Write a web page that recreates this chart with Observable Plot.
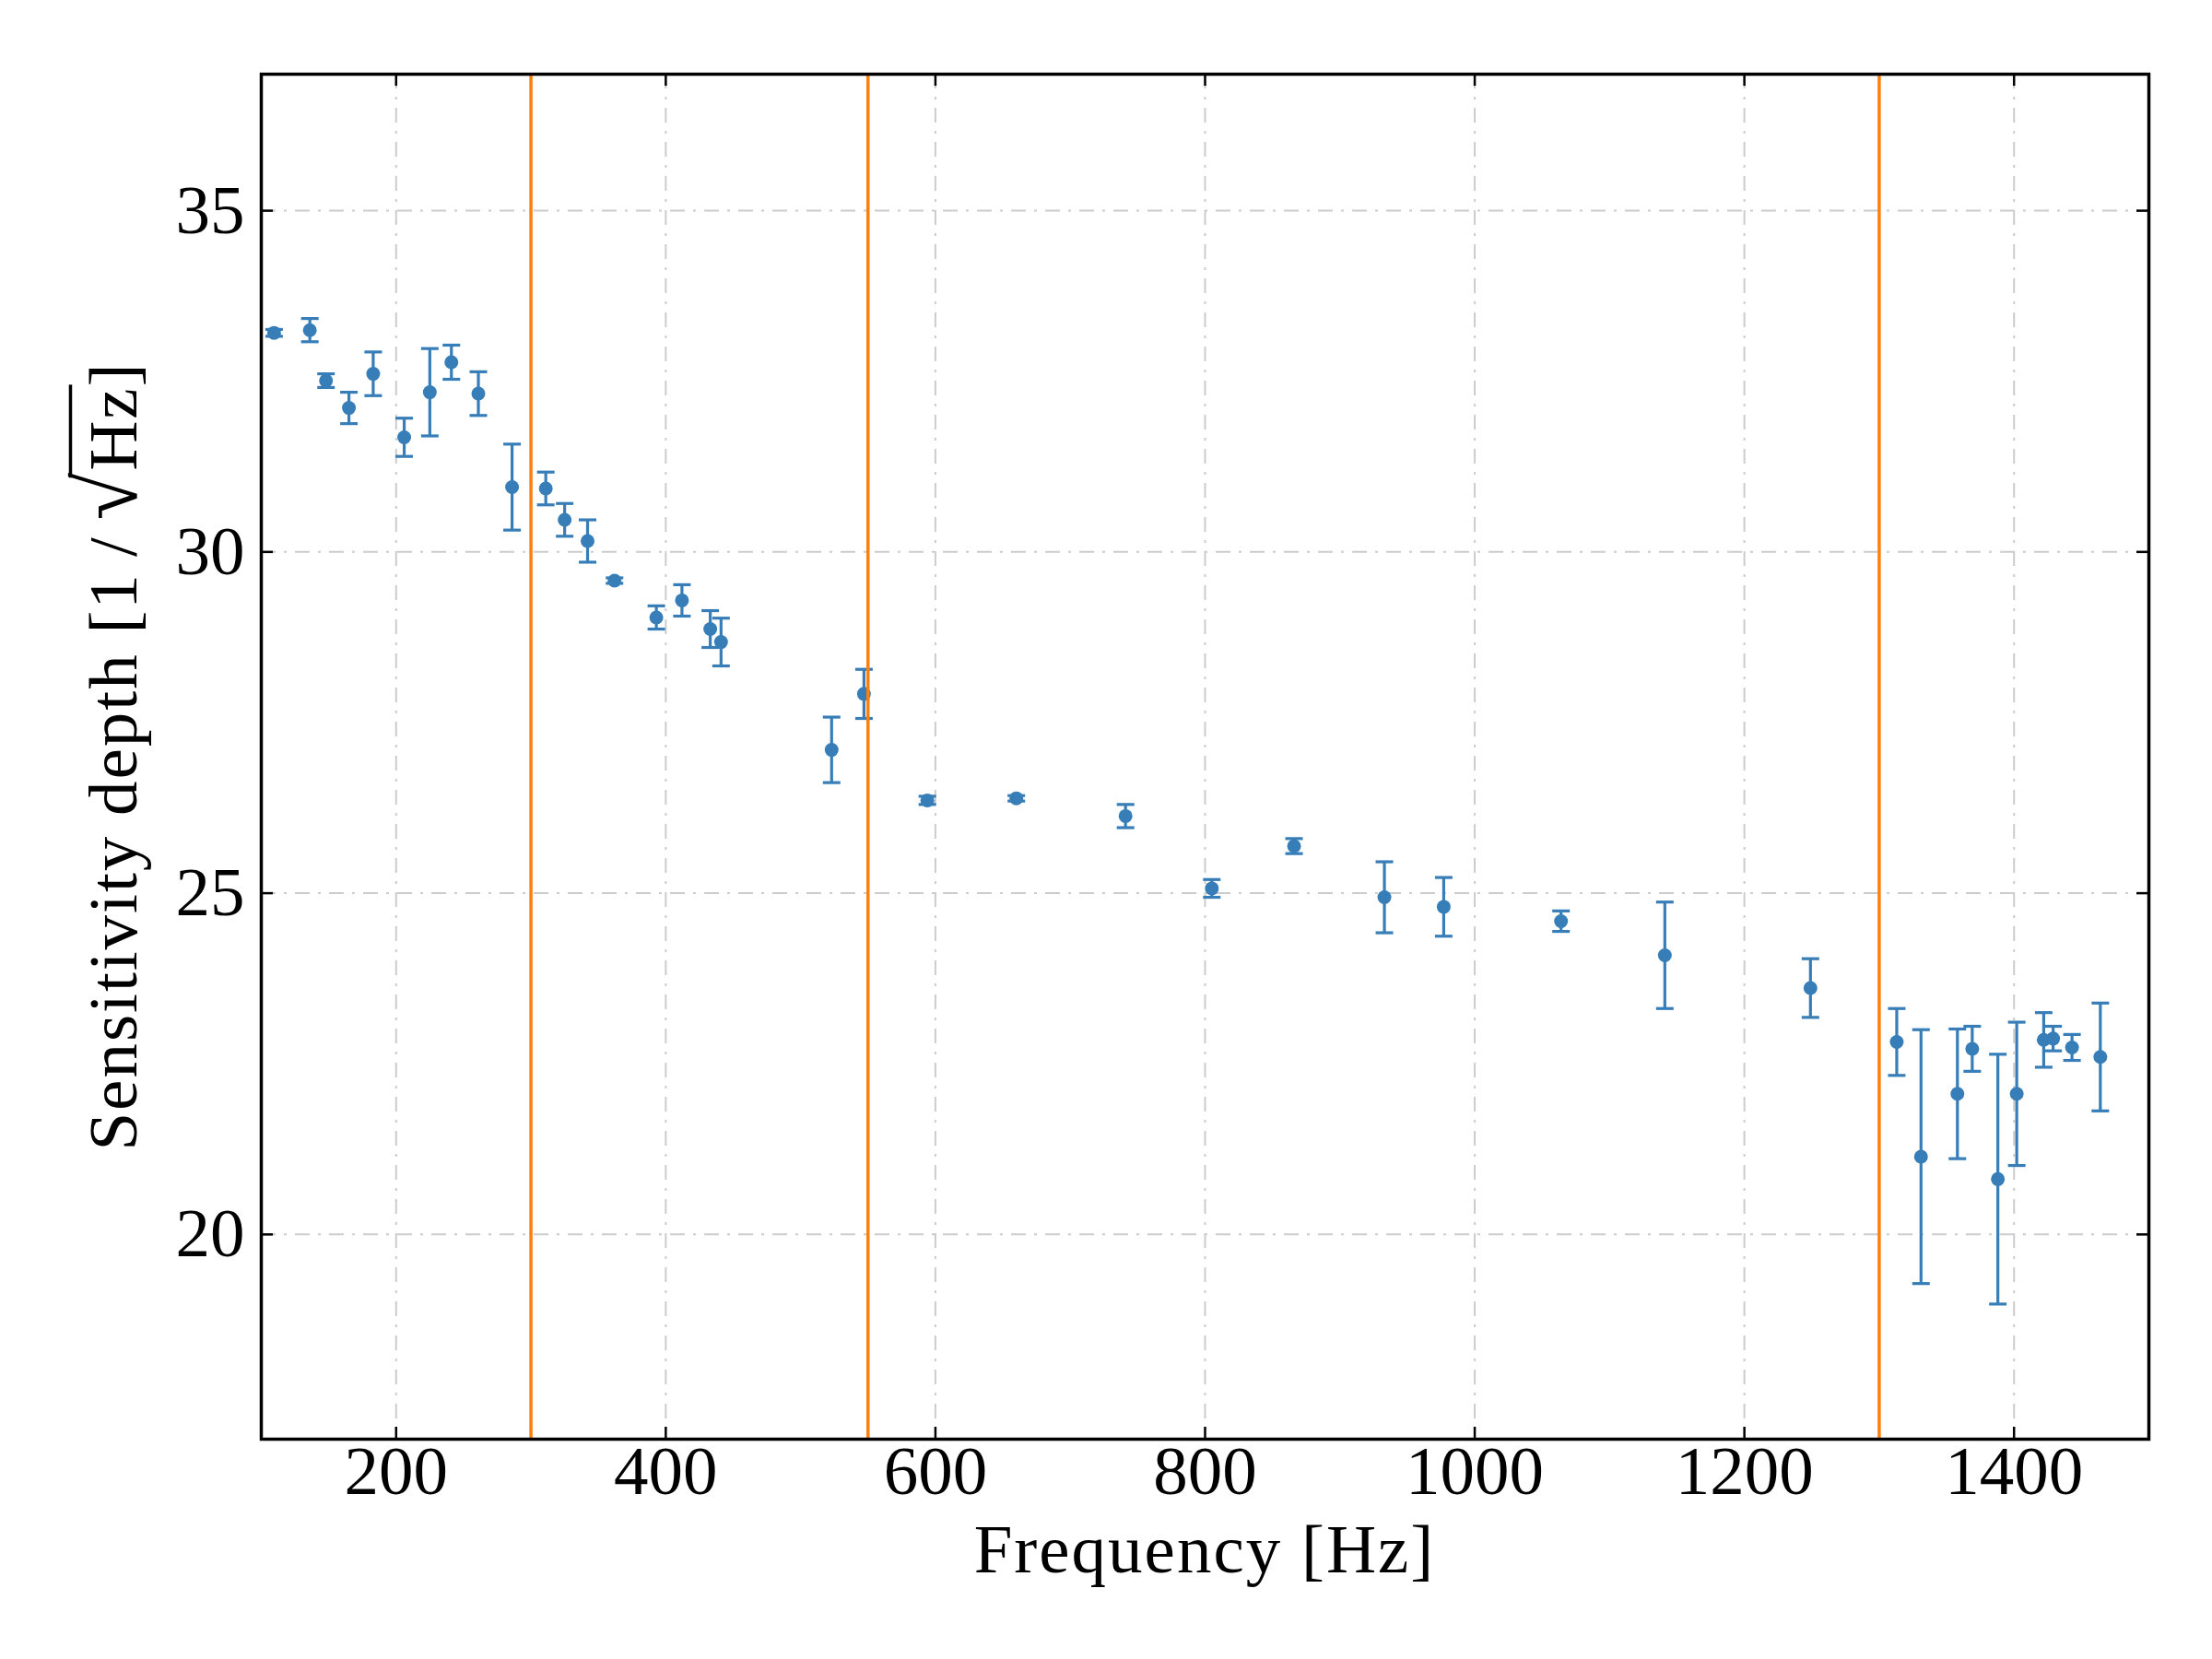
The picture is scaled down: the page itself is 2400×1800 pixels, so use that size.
<!DOCTYPE html>
<html>
<head>
<meta charset="utf-8">
<script src="https://cdn.jsdelivr.net/npm/d3@7"></script>
<script src="https://cdn.jsdelivr.net/npm/@observablehq/plot@0.6"></script>
<style>
  html, body { margin: 0; padding: 0; background: white; }
  #chart { width: 2400px; height: 1800px; }
</style>
</head>
<body>
<div id="chart"></div>
<script>
// ---- data ----
const freqs  = [109.5, 136, 148, 165, 183, 206, 225, 241, 261, 286, 311, 325, 342, 362, 393, 412, 433, 441, 523, 547, 594, 660, 741, 805, 866, 933, 977, 1064, 1141, 1249, 1313, 1331, 1358, 1369, 1388, 1402, 1422, 1429, 1443, 1464];
const values = [33.21, 33.25, 32.51, 32.11, 32.61, 31.68, 32.34, 32.78, 32.32, 30.95, 30.93, 30.47, 30.16, 29.58, 29.04, 29.29, 28.87, 28.68, 27.10, 27.92, 26.36, 26.39, 26.13, 25.07, 25.69, 24.94, 24.80, 24.59, 24.09, 23.61, 22.82, 21.14, 22.06, 22.72, 20.81, 22.06, 22.85, 22.87, 22.74, 22.60];
const errors = [0.05, 0.17, 0.10, 0.23, 0.32, 0.28, 0.64, 0.25, 0.32, 0.63, 0.24, 0.24, 0.31, 0.04, 0.17, 0.23, 0.27, 0.35, 0.48, 0.36, 0.06, 0.04, 0.17, 0.13, 0.11, 0.52, 0.43, 0.15, 0.78, 0.43, 0.49, 1.86, 0.95, 0.33, 1.83, 1.05, 0.40, 0.18, 0.19, 0.79];
const bandEdges = [300, 550, 1300];
const xTicks = [200, 400, 600, 800, 1000, 1200, 1400];
const yTicks = [20, 25, 30, 35];
const xLabel = "Frequency [Hz]";
const yLabelPre = "Sensitivity depth [1\u2009/\u2009";
const yLabelRoot = "√";
const yLabelHz = "Hz";
const yLabelPost = "]";

const rows = freqs.map((f, i) => ({f, v: values[i], lo: values[i] - errors[i], hi: values[i] + errors[i]}));

const W = 2400, H = 1800;
const mL = 283, mR = 69, mT = 80, mB = 239;
const plotW = W - mL - mR, plotH = H - mT - mB;
const blue = "#377eb8", orange = "#ff7f0e", gridC = "#cccccc";
const tickLen = 13;
const FS = 75;
const fontFam = "'Liberation Serif', 'DejaVu Serif', serif";

const capSymbol = {
  draw(ctx, size) {
    const w = Math.sqrt(size / Math.PI);
    ctx.moveTo(-w, 0);
    ctx.lineTo(w, 0);
  }
};

const chart = Plot.plot({
  width: W, height: H,
  marginLeft: mL, marginRight: mR, marginTop: mT, marginBottom: mB,
  x: {domain: [100, 1500]},
  y: {domain: [17, 37]},
  style: {fontFamily: fontFam, fontSize: FS + "px", background: "white", color: "black"},
  marks: [
    Plot.gridX(xTicks, {stroke: gridC, strokeOpacity: 1, strokeWidth: 2, strokeDasharray: "16,9,3,9"}),
    Plot.gridY(yTicks, {stroke: gridC, strokeOpacity: 1, strokeWidth: 2, strokeDasharray: "16,9,3,9"}),
    Plot.ruleX(rows, {x: "f", y1: "lo", y2: "hi", stroke: blue, strokeWidth: 3.2}),
    Plot.dot(rows, {x: "f", y: "lo", symbol: capSymbol, r: 9.5, stroke: blue, strokeWidth: 3.2, fill: "none"}),
    Plot.dot(rows, {x: "f", y: "hi", symbol: capSymbol, r: 9.5, stroke: blue, strokeWidth: 3.2, fill: "none"}),
    Plot.dot(rows, {x: "f", y: "v", r: 7.5, fill: blue, stroke: "none"}),
    Plot.ruleX(bandEdges, {stroke: orange, strokeWidth: 3.5}),
    // inward ticks on all four sides
    Plot.tickX(xTicks, {x: d => d, insetTop: plotH - tickLen, stroke: "black", strokeWidth: 2.5}),
    Plot.tickX(xTicks, {x: d => d, insetBottom: plotH - tickLen, stroke: "black", strokeWidth: 2.5}),
    Plot.tickY(yTicks, {y: d => d, insetRight: plotW - tickLen, stroke: "black", strokeWidth: 2.5}),
    Plot.tickY(yTicks, {y: d => d, insetLeft: plotW - tickLen, stroke: "black", strokeWidth: 2.5}),
    Plot.axisX(xTicks, {tickSize: 0, tickPadding: 6, tickFormat: d3.format("d"), label: null}),
    Plot.axisY(yTicks, {tickSize: 0, tickPadding: 18, tickFormat: d3.format("d"), label: null}),
    Plot.frame({stroke: "black", strokeWidth: 3.5})
  ]
});

document.getElementById("chart").appendChild(chart);

const svg = d3.select(chart);
// x axis label
svg.append("text")
  .attr("x", mL + plotW / 2)
  .attr("y", 1706)
  .attr("text-anchor", "middle")
  .attr("font-family", fontFam)
  .attr("font-size", FS)
  .attr("letter-spacing", 2)
  .attr("fill", "black")
  .text(xLabel);

// y axis label with radical and overline over Hz
const yl = svg.append("text")
  .attr("transform", `translate(148, ${mT + plotH / 2}) rotate(-90)`)
  .attr("text-anchor", "middle")
  .attr("font-family", fontFam)
  .attr("font-size", FS)
  .attr("letter-spacing", 2)
  .attr("fill", "black");
yl.append("tspan").text(yLabelPre);
yl.append("tspan").attr("font-size", FS * 1.25).text(yLabelRoot);
yl.append("tspan").text(yLabelHz);
yl.append("tspan").text(yLabelPost);

try {
  const node = yl.node();
  const iRoot = yLabelPre.length;
  const iZ = iRoot + yLabelRoot.length + yLabelHz.length - 1;
  const r = node.getExtentOfChar(iRoot);
  const z = node.getExtentOfChar(iZ);
  const topY = r.y + r.height * 0.12;
  const x0 = r.x + r.width * 0.86;
  const x1 = z.x + z.width + 2;
  svg.append("line")
    .attr("transform", `translate(148, ${mT + plotH / 2}) rotate(-90)`)
    .attr("x1", x0).attr("x2", x1)
    .attr("y1", topY).attr("y2", topY)
    .attr("stroke", "black").attr("stroke-width", 3.5);
} catch (e) { console.error(e); }
</script>
</body>
</html>
